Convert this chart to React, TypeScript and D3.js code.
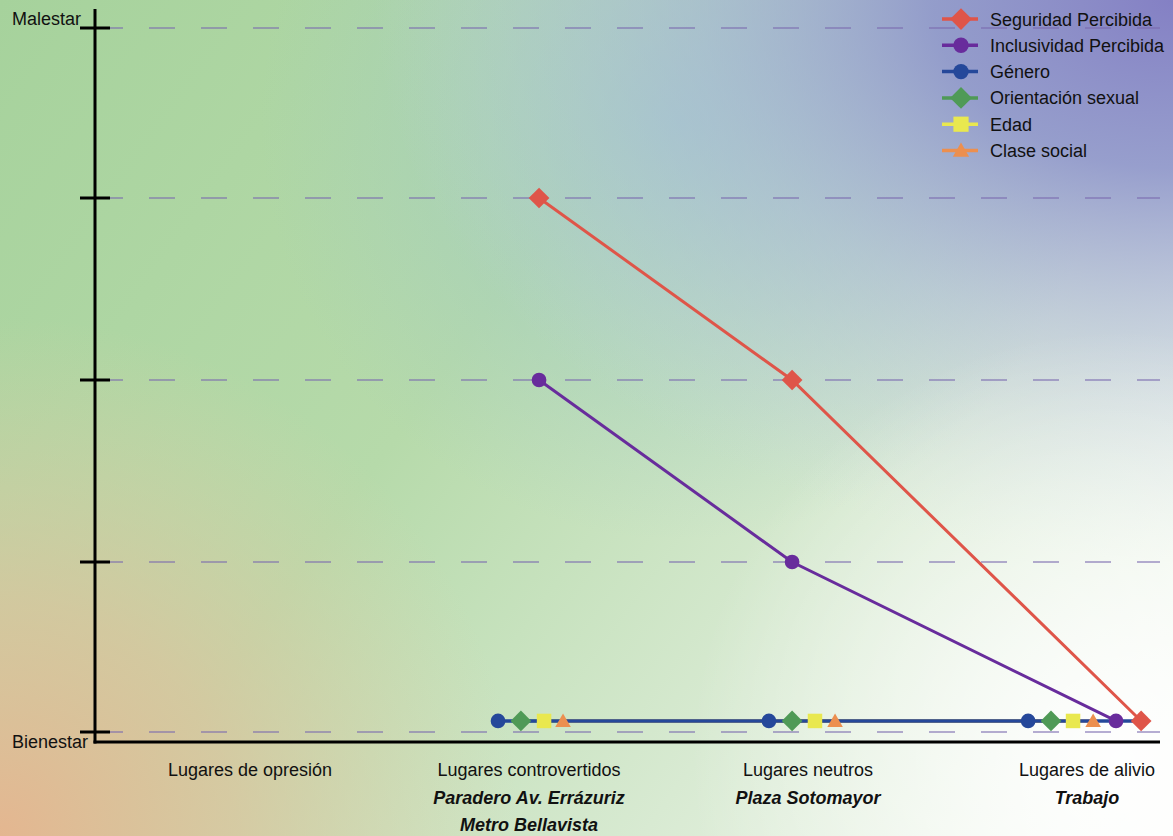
import React from "react";
import * as d3 from "d3";

// ---------- data ----------
const categories = [
  "Lugares de opresión",
  "Lugares controvertidos",
  "Lugares neutros",
  "Lugares de alivio",
];
const placeNames: string[][] = [
  [],
  ["Paradero Av. Errázuriz", "Metro Bellavista"],
  ["Plaza Sotomayor"],
  ["Trabajo"],
];
const levelTicks = [0, 1, 2, 3, 4];
const levelLabels = ["Bienestar", "", "", "", "Malestar"];

const seriesNames = [
  "Seguridad Percibida",
  "Inclusividad Percibida",
  "Género",
  "Orientación sexual",
  "Edad",
  "Clase social",
];
const seriesColors = ["#df5549", "#682c9c", "#25489a", "#4f9a56", "#e9e84f", "#ec8f4f"];
const seriesShapes = ["diamond", "circle", "circle", "diamond", "square", "triangle"];

// x = position along the category axis (category index), y = level (0 = Bienestar, 4 = Malestar)
const seguridadX = [1.036, 1.943, 3.194];
const seguridadY = [3, 2, 0.065];
const inclusividadX = [1.036, 1.943, 3.104];
const inclusividadY = [2, 1, 0.065];
const generoX = [0.889, 1.86, 2.789];
const generoY = [0.065, 0.065, 0.065];
const orientacionX = [0.971, 1.943, 2.871];
const orientacionY = [0.065, 0.065, 0.065];
const edadX = [1.054, 2.025, 2.95];
const edadY = [0.065, 0.065, 0.065];
const claseX = [1.122, 2.097, 3.022];
const claseY = [0.065, 0.065, 0.065];

const seriesX = [seguridadX, inclusividadX, generoX, orientacionX, edadX, claseX];
const seriesY = [seguridadY, inclusividadY, generoY, orientacionY, edadY, claseY];

// ---------- layout ----------
const W = 1173;
const H = 836;
const axisX = 95;
const axisY = 742;
const axisRight = 1160;
const FONT = "'Liberation Sans', Arial, Helvetica, sans-serif";

const x = d3.scaleLinear().domain([0, 3]).range([250, 1087]);
const y = d3.scaleLinear().domain(levelTicks).range([732, 562, 380, 198, 28]);

const shapeType: Record<string, d3.SymbolType> = {
  diamond: d3.symbolSquare,
  circle: d3.symbolCircle,
  square: d3.symbolSquare,
  triangle: d3.symbolTriangle,
};
const shapeSize: Record<string, number> = {
  diamond: 215,
  circle: 170,
  square: 210,
  triangle: 105,
};

function Marker({ shape, color, cx, cy, scale = 1 }: any) {
  const path = d3.symbol().type(shapeType[shape]).size(shapeSize[shape] * scale)() as string;
  const rot = shape === "diamond" ? 45 : 0;
  const dy = shape === "triangle" ? 1.5 : 0;
  return (
    <path
      d={path}
      fill={color}
      transform={`translate(${cx},${cy + dy}) rotate(${rot})`}
    />
  );
}

export default function App() {
  const line = d3
    .line<[number, number]>()
    .x((d) => x(d[0]))
    .y((d) => y(d[1]));

  const pts = seriesNames.map((_, i) =>
    seriesX[i].map((v, j) => [v, seriesY[i][j]] as [number, number])
  );

  // baseline connector for Género: spans all points lying on its level
  const gLevel = generoY[0];
  const onLevel: number[] = [];
  pts.forEach((s) => s.forEach((p) => { if (p[1] === gLevel) onLevel.push(p[0]); }));
  const gExtent = d3.extent(onLevel) as [number, number];

  const legendY0 = 19;
  const legendStep = 26.3;

  return (
    <svg
      width={W}
      height={H}
      style={{ position: "absolute", left: 0, top: 0, display: "block" }}
      fontFamily={FONT}
    >
      <defs>
        <linearGradient id="base" gradientUnits="userSpaceOnUse" x1={0} y1={0} x2={W} y2={H}>
          <stop offset="0" stopColor="#a6d29c" />
          <stop offset="0.4" stopColor="#b6daaa" />
          <stop offset="0.7" stopColor="#d8ead2" />
          <stop offset="1" stopColor="#fafcf8" />
        </linearGradient>
        <radialGradient id="teal" gradientUnits="userSpaceOnUse" cx={680} cy={120} r={420}>
          <stop offset="0" stopColor="#9cc8c8" stopOpacity={0.8} />
          <stop offset="1" stopColor="#9cc8c8" stopOpacity={0} />
        </radialGradient>
        <radialGradient
          id="purple"
          gradientUnits="userSpaceOnUse"
          cx={0}
          cy={0}
          r={1}
          gradientTransform={`translate(${W} 0) scale(800 560)`}
        >
          <stop offset="0" stopColor="#8480c4" stopOpacity={1} />
          <stop offset="0.3" stopColor="#8e94cc" stopOpacity={0.88} />
          <stop offset="0.6" stopColor="#acb4dc" stopOpacity={0.5} />
          <stop offset="1" stopColor="#cdd2ea" stopOpacity={0} />
        </radialGradient>
        <radialGradient id="tan" gradientUnits="userSpaceOnUse" cx={0} cy={H} r={520}>
          <stop offset="0" stopColor="#e4b690" stopOpacity={1} />
          <stop offset="0.45" stopColor="#e0c29c" stopOpacity={0.7} />
          <stop offset="1" stopColor="#e0d0a8" stopOpacity={0} />
        </radialGradient>
        <radialGradient id="white" gradientUnits="userSpaceOnUse" cx={1120} cy={760} r={430}>
          <stop offset="0" stopColor="#ffffff" stopOpacity={0.95} />
          <stop offset="1" stopColor="#ffffff" stopOpacity={0} />
        </radialGradient>
      </defs>

      {/* background */}
      <rect width={W} height={H} fill="url(#base)" />
      <rect width={W} height={H} fill="url(#teal)" />
      <rect width={W} height={H} fill="url(#purple)" />
      <rect width={W} height={H} fill="url(#tan)" />
      <rect width={W} height={H} fill="url(#white)" />

      {/* gridlines */}
      {levelTicks.map((t) => (
        <line
          key={"g" + t}
          x1={97}
          x2={axisRight}
          y1={y(t)}
          y2={y(t)}
          stroke="#7a6aae"
          strokeOpacity={0.55}
          strokeWidth={2}
          strokeDasharray="26 26"
        />
      ))}

      {/* axes */}
      <line x1={axisX} x2={axisX} y1={9} y2={axisY + 1.5} stroke="#000" strokeWidth={3} />
      <line x1={axisX - 1.5} x2={axisRight} y1={axisY} y2={axisY} stroke="#000" strokeWidth={3} />
      {levelTicks.map((t) => (
        <line key={"t" + t} x1={80} x2={110} y1={y(t)} y2={y(t)} stroke="#000" strokeWidth={3} />
      ))}
      {levelTicks.map((t, i) =>
        levelLabels[i] ? (
          <text
            key={"l" + t}
            x={12}
            y={i === 0 ? axisY + 6 : y(t) - 3}
            fontSize={18}
            fill="#111"
          >
            {levelLabels[i]}
          </text>
        ) : null
      )}

      {/* category labels */}
      {categories.map((c, i) => (
        <g key={c}>
          <text x={x(i)} y={776} fontSize={18} textAnchor="middle" fill="#111">
            {c}
          </text>
          {placeNames[i].map((p, j) => (
            <text
              key={p}
              x={x(i)}
              y={804 + j * 27}
              fontSize={18}
              fontWeight="bold"
              fontStyle="italic"
              textAnchor="middle"
              fill="#111"
            >
              {p}
            </text>
          ))}
        </g>
      ))}

      {/* lines */}
      {pts.map((s, i) =>
        i >= 3 ? (
          <path key={"ln" + i} d={line(s) as string} fill="none" stroke={seriesColors[i]} strokeWidth={3} />
        ) : null
      )}
      <path
        d={line([[gExtent[0], gLevel], [gExtent[1], gLevel]]) as string}
        fill="none"
        stroke={seriesColors[2]}
        strokeWidth={3.5}
      />
      {pts.map((s, i) =>
        i < 2 ? (
          <path key={"ln" + i} d={line(s) as string} fill="none" stroke={seriesColors[i]} strokeWidth={3} />
        ) : null
      )}

      {/* markers */}
      {pts.map((s, i) =>
        s.map((p, j) => (
          <Marker
            key={"m" + i + "-" + j}
            shape={seriesShapes[i]}
            color={seriesColors[i]}
            cx={x(p[0])}
            cy={y(p[1])}
          />
        ))
      )}

      {/* legend */}
      {seriesNames.map((n, i) => {
        const ly = legendY0 + i * legendStep;
        return (
          <g key={"lg" + n}>
            <line x1={942} x2={978} y1={ly} y2={ly} stroke={seriesColors[i]} strokeWidth={3.5} />
            <Marker shape={seriesShapes[i]} color={seriesColors[i]} cx={961} cy={ly} scale={1.1} />
            <text x={990} y={ly + 6.5} fontSize={18} fill="#111">
              {n}
            </text>
          </g>
        );
      })}
    </svg>
  );
}
